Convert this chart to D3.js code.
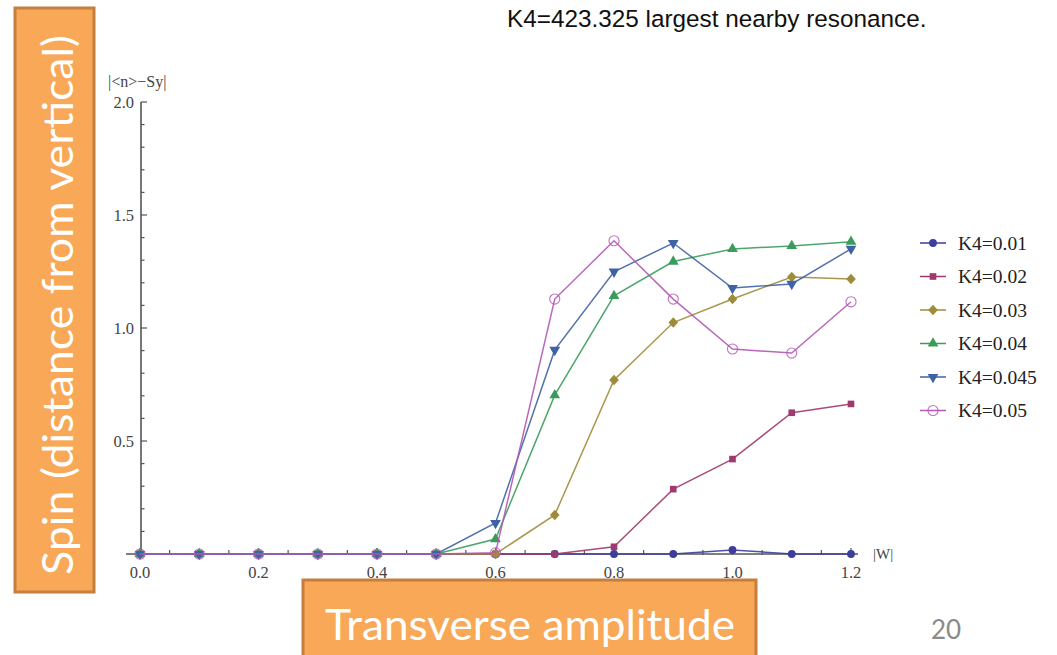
<!DOCTYPE html>
<html>
<head>
<meta charset="utf-8">
<script src="https://cdn.jsdelivr.net/npm/d3@7"></script>
<style>
  html, body { margin: 0; padding: 0; background: #fff; }
  svg { display: block; }
</style>
</head>
<body>
<svg id="chart" width="1057" height="655"></svg>
<script>
// Transverse amplitude |W| sampled every 0.1
const amplitudes = [0.0, 0.1, 0.2, 0.3, 0.4, 0.5, 0.6, 0.7, 0.8, 0.9, 1.0, 1.1, 1.2];

// |<n> - Sy| for each K4 setting
const seriesNames = ["K4=0.01", "K4=0.02", "K4=0.03", "K4=0.04", "K4=0.045", "K4=0.05"];
const k4_001  = [0, 0, 0, 0, 0, 0, 0,     0,     0,     0,     0.018, 0,     0];
const k4_002  = [0, 0, 0, 0, 0, 0, 0,     0,     0.032, 0.287, 0.42,  0.625, 0.664];
const k4_003  = [0, 0, 0, 0, 0, 0, 0,     0.173, 0.77,  1.024, 1.128, 1.226, 1.217];
const k4_004  = [0, 0, 0, 0, 0, 0, 0.066, 0.703, 1.142, 1.294, 1.35,  1.363, 1.382];
const k4_0045 = [0, 0, 0, 0, 0, 0, 0.137, 0.903, 1.249, 1.376, 1.177, 1.195, 1.35];
const k4_005  = [0, 0, 0, 0, 0, 0, 0.005, 1.128, 1.386, 1.128, 0.907, 0.889, 1.116];
const seriesValues = [k4_001, k4_002, k4_003, k4_004, k4_0045, k4_005];

const xTickLabels = ["0.0", "0.2", "0.4", "0.6", "0.8", "1.0", "1.2"];
const yTickLabels = ["0.5", "1.0", "1.5", "2.0"];

const colors = ["#3d3d9c", "#9e3a6e", "#9e8c3a", "#3a9c5c", "#3f62a6", "#b458b4"];
const shapes = ["circle", "square", "diamond", "triUp", "triDown", "openCircle"];

const svg = d3.select("#chart");

const x = d3.scaleLinear().domain([0, 1.2]).range([140, 851]);
const y = d3.scaleLinear().domain([0, 2]).range([554, 102]);

const axisColor = "#555";
const serif = "'Liberation Serif', 'DejaVu Serif', serif";

// Title
svg.append("text")
  .attr("x", 507).attr("y", 27)
  .attr("font-family", "'Liberation Sans', Arial, sans-serif")
  .attr("font-size", 24.3)
  .attr("fill", "#111")
  .text("K4=423.325 largest nearby resonance.");

// Axes
const plot = svg.append("g");

const yMinor = d3.range(0, 2.0001, 0.1);
const xMinor = d3.range(0, 1.2001, 0.05);

// y axis
plot.append("line")
  .attr("x1", x(0) + 1).attr("x2", x(0) + 1)
  .attr("y1", y(2)).attr("y2", y(0))
  .attr("stroke", axisColor).attr("stroke-width", 1.6);
plot.selectAll(".ytick")
  .data(yMinor)
  .join("line")
  .attr("x1", x(0) + 1)
  .attr("x2", d => x(0) + 1 + (Math.abs(d * 2 - Math.round(d * 2)) < 1e-6 ? 6 : 3.5))
  .attr("y1", d => y(d)).attr("y2", d => y(d))
  .attr("stroke", axisColor).attr("stroke-width", 1.2);
plot.selectAll(".ylab")
  .data(yTickLabels)
  .join("text")
  .attr("x", x(0) - 6)
  .attr("y", d => y(+d) + 5.5)
  .attr("text-anchor", "end")
  .attr("font-family", serif)
  .attr("font-size", 16.5)
  .attr("fill", "#444")
  .text(d => d);
svg.append("text")
  .attr("x", 108).attr("y", 87)
  .attr("font-family", serif)
  .attr("font-size", 16)
  .attr("fill", "#444")
  .text("|<n>\u2212Sy|");

// x axis
plot.append("line")
  .attr("x1", 126).attr("x2", 858)
  .attr("y1", y(0)).attr("y2", y(0))
  .attr("stroke", axisColor).attr("stroke-width", 1.6);
plot.selectAll(".xtick")
  .data(xMinor)
  .join("line")
  .attr("x1", d => x(d)).attr("x2", d => x(d))
  .attr("y1", y(0) + 1)
  .attr("y2", d => y(0) - (Math.abs(d * 5 - Math.round(d * 5)) < 1e-6 ? 6 : 4))
  .attr("stroke", axisColor).attr("stroke-width", 1.2);
plot.selectAll(".xlab")
  .data(xTickLabels)
  .join("text")
  .attr("x", d => x(+d))
  .attr("y", y(0) + 24)
  .attr("text-anchor", "middle")
  .attr("font-family", serif)
  .attr("font-size", 16.5)
  .attr("fill", "#444")
  .text(d => d);
svg.append("text")
  .attr("x", 873).attr("y", 559)
  .attr("font-family", serif)
  .attr("font-size", 15)
  .attr("fill", "#444")
  .text("|W|");

// Marker drawing
function drawMarker(g, shape, color, cx, cy) {
  const sym = {
    circle: d3.symbolCircle, square: d3.symbolSquare, diamond: d3.symbolDiamond,
    triUp: d3.symbolTriangle, triDown: d3.symbolTriangle, openCircle: d3.symbolCircle
  }[shape];
  const size = { circle: 48, square: 44, diamond: 44, triUp: 50, triDown: 50, openCircle: 80 }[shape];
  let tr = `translate(${cx},${cy})`;
  if (shape === "triDown") tr += " rotate(180)";
  if (shape === "diamond") tr += " scale(1.35,0.85)";
  const p = g.append("path")
    .attr("d", d3.symbol().type(sym).size(size)())
    .attr("transform", tr);
  if (shape === "openCircle") {
    p.attr("fill", "none").attr("stroke", color).attr("stroke-opacity", 0.85).attr("stroke-width", 1.1);
  } else {
    p.attr("fill", color);
  }
}

const line = d3.line()
  .x((d, i) => x(amplitudes[i]))
  .y(d => y(d));

const seriesG = svg.append("g");
seriesValues.forEach((vals, si) => {
  const g = seriesG.append("g");
  g.append("path")
    .attr("d", line(vals))
    .attr("fill", "none")
    .attr("stroke", colors[si])
    .attr("stroke-opacity", 0.9)
    .attr("stroke-width", 1.5);
  vals.forEach((v, i) => drawMarker(g, shapes[si], colors[si], x(amplitudes[i]), y(v)));
});

// Legend
const legend = svg.append("g");
seriesNames.forEach((name, si) => {
  const ly = 243 + si * 33.5;
  legend.append("line")
    .attr("x1", 920).attr("x2", 946)
    .attr("y1", ly).attr("y2", ly)
    .attr("stroke", colors[si]).attr("stroke-width", 1.5);
  drawMarker(legend, shapes[si], colors[si], 933, ly);
  legend.append("text")
    .attr("x", 958).attr("y", ly + 6.5)
    .attr("font-family", serif)
    .attr("font-size", 19.5)
    .attr("fill", "#222")
    .text(name);
});

// Highlighted axis captions
const boxFill = "#f9a857";
const boxStroke = "#c47f3e";
const capFont = "Lato, 'Open Sans', sans-serif";

svg.append("rect")
  .attr("x", 15).attr("y", 8).attr("width", 79).attr("height", 584)
  .attr("fill", boxFill).attr("stroke", boxStroke).attr("stroke-width", 3);
svg.append("text")
  .attr("transform", "translate(73,305) rotate(-90)")
  .attr("text-anchor", "middle")
  .attr("font-family", capFont)
  .attr("font-size", 42)
  .attr("textLength", 540)
  .attr("lengthAdjust", "spacingAndGlyphs")
  .attr("fill", "#fff")
  .text("Spin (distance from vertical)");

svg.append("rect")
  .attr("x", 303).attr("y", 580).attr("width", 453).attr("height", 90)
  .attr("fill", boxFill).attr("stroke", boxStroke).attr("stroke-width", 3);
svg.append("text")
  .attr("x", 530).attr("y", 640)
  .attr("text-anchor", "middle")
  .attr("font-family", capFont)
  .attr("font-size", 42)
  .attr("textLength", 410)
  .attr("lengthAdjust", "spacingAndGlyphs")
  .attr("fill", "#fff")
  .text("Transverse amplitude");

svg.append("text")
  .attr("x", 946).attr("y", 639)
  .attr("text-anchor", "middle")
  .attr("font-family", capFont)
  .attr("font-size", 26)
  .attr("fill", "#8a8a8a")
  .text("20");
</script>
</body>
</html>
